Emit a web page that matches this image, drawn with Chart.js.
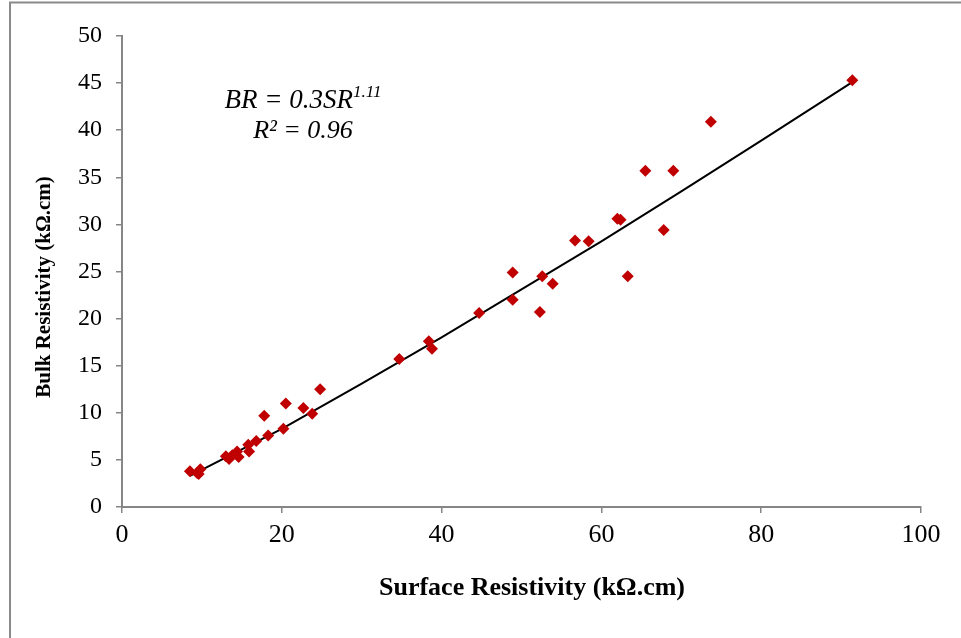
<!DOCTYPE html>
<html>
<head>
<meta charset="utf-8">
<script src="https://cdn.jsdelivr.net/npm/chart.js@4/dist/chart.umd.min.js"></script>
<style>
  html, body { margin: 0; padding: 0; background: #fff; }
  #wrap { width: 961px; height: 638px; position: relative; }
</style>
</head>
<body>
<div id="wrap"><canvas id="c" width="961" height="638"></canvas></div>
<script>
// surface resistivity (x) vs bulk resistivity (y), kOhm.cm
var surfaceRes = [8.5, 9.4, 9.8, 9.6, 13.0, 13.4, 13.8, 14.4, 14.6, 15.8, 15.9, 16.8, 17.8,
  18.3, 20.2, 20.5, 22.7, 23.8, 24.8, 34.7, 38.4, 38.8, 44.7, 48.9, 48.9, 52.3, 52.6,
  53.9, 56.7, 58.4, 62.0, 62.4, 63.3, 65.5, 67.8, 69.0, 73.7, 91.4];
var bulkRes = [3.8, 3.6, 4.0, 3.5, 5.4, 5.1, 5.5, 5.9, 5.3, 6.6, 5.9, 7.0, 9.7,
  7.6, 8.3, 11.0, 10.5, 9.9, 12.5, 15.7, 17.6, 16.8, 20.6, 24.9, 22.0, 20.7, 24.5,
  23.7, 28.3, 28.2, 30.6, 30.5, 24.5, 35.7, 29.4, 35.7, 40.9, 45.3];

// power trendline as drawn (BR = 0.3 SR^1.11)
var trendX = [8.5, 20, 30, 40, 50, 60, 70, 80, 91.4];
var trendY = [3.3, 8.3, 13.1, 18.0, 23.1, 28.2, 33.5, 38.9, 45.1];

var xTicks = [0, 20, 40, 60, 80, 100];
var yTicks = [0, 5, 10, 15, 20, 25, 30, 35, 40, 45, 50];

var xTitle = 'Surface Resistivity (k\u03a9.cm)';
var yTitle = 'Bulk Resistivity (k\u03a9.cm)';

var points = surfaceRes.map(function (v, i) { return { x: v, y: bulkRes[i] }; });
var trend = trendX.map(function (v, i) { return { x: v, y: trendY[i] }; });

var serif = "'Liberation Serif', 'Times New Roman', serif";
var axisGray = '#868686';

var decor = {
  id: 'decor',
  afterDraw: function (chart) {
    var ctx = chart.ctx;
    ctx.save();
    // outer frame (top and left edges)
    ctx.strokeStyle = '#8a8a8a';
    ctx.lineWidth = 2;
    ctx.beginPath();
    ctx.moveTo(10, 638);
    ctx.lineTo(10, 2.5);
    ctx.lineTo(961, 2.5);
    ctx.stroke();

    // axis titles
    ctx.fillStyle = '#000';
    ctx.textAlign = 'center';
    ctx.textBaseline = 'middle';
    ctx.font = 'bold 26px ' + serif;
    ctx.fillText(xTitle, 532, 588);
    ctx.save();
    ctx.translate(45, 287);
    ctx.rotate(-Math.PI / 2);
    ctx.font = 'bold 21px ' + serif;
    ctx.fillText(yTitle, 0, 0);
    ctx.restore();

    // equation text
    ctx.textBaseline = 'alphabetic';
    var main = 'BR = 0.3SR';
    var sup = '1.11';
    ctx.font = 'italic 27px ' + serif;
    var w1 = ctx.measureText(main).width;
    ctx.font = 'italic 17px ' + serif;
    var w2 = ctx.measureText(sup).width;
    var cx = 303;
    var x0 = cx - (w1 + w2) / 2;
    ctx.textAlign = 'left';
    ctx.font = 'italic 27px ' + serif;
    ctx.fillText(main, x0, 108);
    ctx.font = 'italic 17px ' + serif;
    ctx.fillText(sup, x0 + w1, 97);
    ctx.font = 'italic 26px ' + serif;
    ctx.textAlign = 'center';
    ctx.fillText('R\u00b2 = 0.96', cx, 138);
    ctx.restore();
  }
};

new Chart(document.getElementById('c'), {
  type: 'scatter',
  data: {
    datasets: [
      {
        label: 'data',
        data: points,
        pointStyle: 'rectRot',
        pointRadius: 6,
        pointHoverRadius: 6,
        backgroundColor: '#c00000',
        borderColor: '#c00000',
        borderWidth: 0
      },
      {
        label: 'trend',
        type: 'line',
        data: trend,
        showLine: true,
        borderColor: '#000',
        borderWidth: 2,
        pointRadius: 0,
        fill: false,
        tension: 0
      }
    ]
  },
  options: {
    responsive: false,
    animation: false,
    events: [],
    layout: { padding: { top: 36, right: 40, left: 0, bottom: 0 } },
    plugins: {
      legend: { display: false },
      tooltip: { enabled: false }
    },
    scales: {
      x: {
        type: 'linear',
        min: 0,
        max: 100,
        afterBuildTicks: function (s) { s.ticks = xTicks.map(function (v) { return { value: v }; }); },
        afterFit: function (s) { s.height = 131; },
        grid: {
          drawOnChartArea: false,
          drawTicks: true,
          tickLength: 6,
          color: axisGray,
          lineWidth: 1.5
        },
        border: { color: axisGray, width: 2 },
        ticks: {
          color: '#000',
          font: { family: serif, size: 26 },
          padding: 7
        }
      },
      y: {
        type: 'linear',
        min: 0,
        max: 50,
        afterBuildTicks: function (s) { s.ticks = yTicks.map(function (v) { return { value: v }; }); },
        afterFit: function (s) { s.width = 122; },
        grid: {
          drawOnChartArea: false,
          drawTicks: true,
          tickLength: 6,
          color: axisGray,
          lineWidth: 1.5
        },
        border: { color: axisGray, width: 2 },
        ticks: {
          color: '#000',
          font: { family: serif, size: 24 },
          padding: 14
        }
      }
    }
  },
  plugins: [decor]
});
</script>
</body>
</html>
